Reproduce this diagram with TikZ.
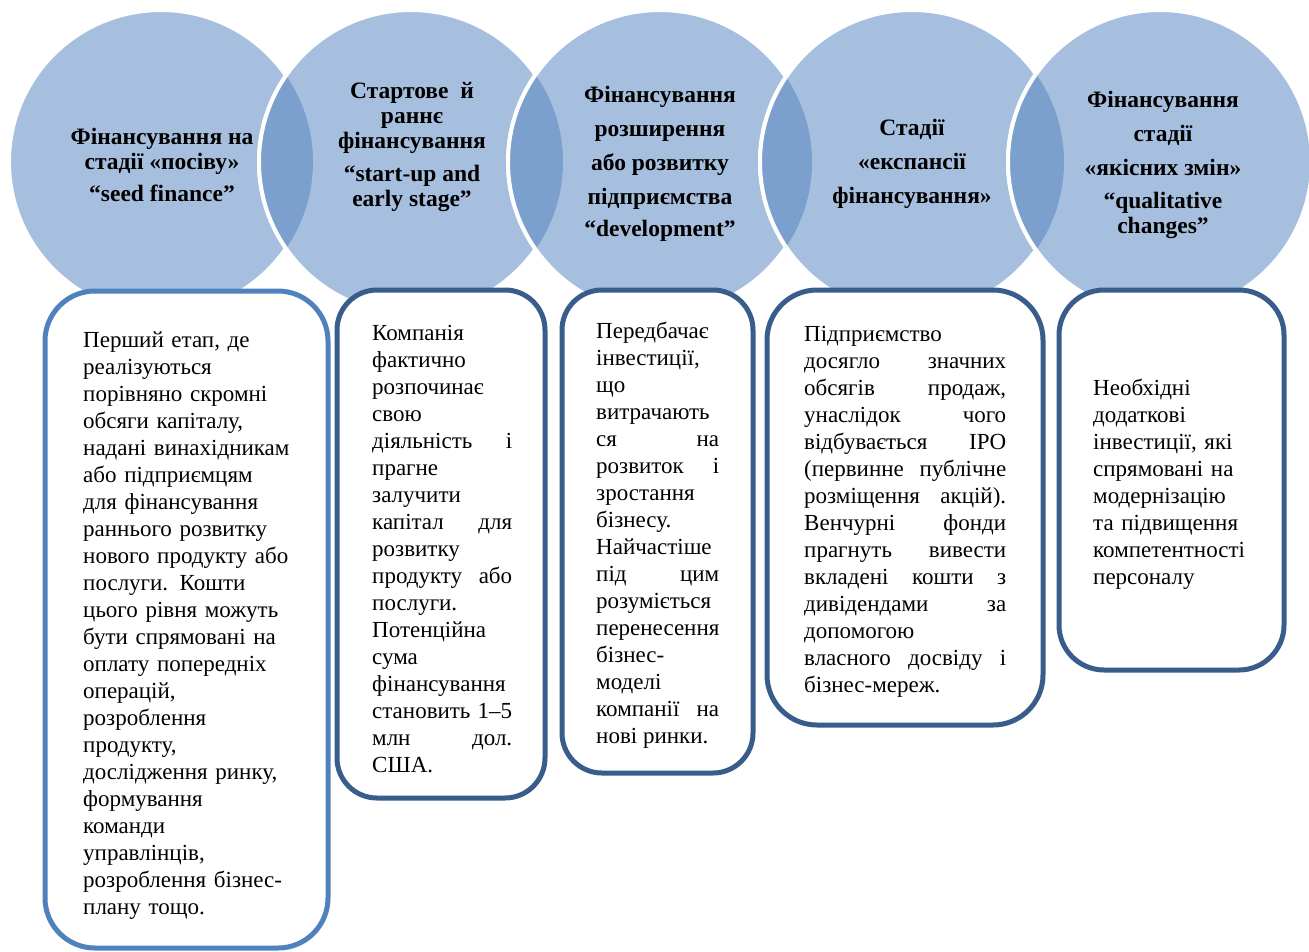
\documentclass[tikz,border=0pt]{standalone}
\usepackage{fontspec}
\setmainfont{Liberation Serif}
\definecolor{lightc}{RGB}{167,191,222}
\definecolor{darkc}{RGB}{123,160,205}
\definecolor{bordA}{RGB}{79,129,189}
\definecolor{bordB}{RGB}{56,93,138}
\hyphenpenalty=10000 \exhyphenpenalty=10000 \tolerance=10000 \hbadness=10000 \hfuzz=20pt
\tikzset{
  circfill/.style={fill=lightc, draw=white, line width=4pt},
  circtext/.style={font=\fontsize{23.5}{25}\selectfont\bfseries, align=center, inner sep=0pt},
  bodytext/.style={font=\fontsize{23}{27}\selectfont, inner sep=0pt, anchor=west},
  boxA/.style={draw=bordA, fill=white, line width=5pt, rounded corners=50pt},
  boxB/.style={draw=bordB, fill=white, line width=5pt, rounded corners=#1},
  boxB/.default=40pt
}
\begin{document}
\begin{tikzpicture}[x=1pt,y=-1pt]
\useasboundingbox (0,0) rectangle (1309,951);
\clip (0,0) rectangle (1309,951);
\def\R{152}
\coordinate (o1) at (161,162);
\coordinate (o2) at (411,162);
\coordinate (o3) at (660,162);
\coordinate (o4) at (912,162);
\coordinate (o5) at (1160,162);
% circles
\foreach \i in {1,...,5} { \path[circfill] (o\i) circle (\R); }
% overlaps
\foreach \i/\j in {1/2,2/3,3/4,4/5} {
  \begin{scope}
    \clip (o\i) circle (\R);
    \fill[darkc] (o\j) circle (\R);
    \draw[white, line width=4pt] (o\j) circle (\R);
  \end{scope}
}
% circle texts
\node[circtext] (t1) at (162,165) {Фінансування на\\стадії «посіву»\\[7pt]“seed finance”};
\node[circtext] (t2) at (412,147) {Стартове~~й\\раннє\\фінансування\\[8pt]“start-up and\\early stage”};
\node[circtext] (t3) at (660,164) {Фінансування\\[9pt]розширення\\[9pt]або розвитку\\[9pt]підприємства\\[7pt]“development”};
\node[circtext] (t4) at (912,164) {Стадії\\[9pt]«експансії\\[9pt]фінансування»};
\node[circtext] (t5) at (1163,165) {Фінансування\\[9pt]стадії\\[9pt]«якісних змін»\\[8pt]“qualitative\\changes”};
% boxes
\node[boxA, minimum width=283pt, minimum height=657pt] (b1) at (186.5,619.5) {};
\node[boxB, minimum width=208pt, minimum height=508pt] (b2) at (441,544) {};
\node[boxB, minimum width=191pt, minimum height=483pt] (b3) at (657.5,531.5) {};
\node[boxB=50pt, minimum width=276pt, minimum height=435pt] (b4) at (905,507.5) {};
\node[boxB=45pt, minimum width=225pt, minimum height=380pt] (b5) at (1171.5,480) {};
% box texts
\node[bodytext, text width=215pt, align=left] (x1) at (83,626) {Перший етап, де\\
реалізуються\\
порівняно скромні\\
обсяги капіталу,\\
надані винахідникам\\
або підприємцям\\
для фінансування\\
раннього розвитку\\
нового продукту або\\
послуги. Кошти\\
цього рівня можуть\\
бути спрямовані на\\
оплату попередніх\\
операцій,\\
розроблення\\
продукту,\\
дослідження ринку,\\
формування\\
команди\\
управлінців,\\
розроблення бізнес-\\
плану тощо.};
\node[bodytext, text width=140pt, align=justify] (x2) at (372,549) {Компанія\\
фактично\\
розпочинає\\
свою\\
діяльність~і\linebreak
прагне\\
залучити\\
капітал~для\linebreak
розвитку\\
продукту~або\linebreak
послуги.\\
Потенційна\\
сума\\
фінансування\\
становить~1–5\linebreak
млн~дол.\linebreak
США.};
\node[bodytext, text width=123pt, align=justify] (x3) at (596,535) {Передбачає\\
інвестиції,\\
що\\
витрачають\\
ся~на\linebreak
розвиток~і\linebreak
зростання\\
бізнесу.\\
Найчастіше\\
під~цим\linebreak
розуміється\\
перенесення\\
бізнес-\\
моделі\\
компанії~на\linebreak
нові~ринки.};
\node[bodytext, text width=202pt, align=justify] (x4) at (804,512) {Підприємство\\
досягло~значних\linebreak
обсягів~продаж,\linebreak
унаслідок~чого\linebreak
відбувається~IPO\linebreak
(первинне~публічне\linebreak
розміщення~акцій).\linebreak
Венчурні~фонди\linebreak
прагнуть~вивести\linebreak
вкладені~кошти~з\linebreak
дивідендами~за\linebreak
допомогою\\
власного~досвіду~і\linebreak
бізнес-мереж.};
\node[bodytext, text width=180pt, align=left] (x5) at (1093,484) {Необхідні\\
додаткові\\
інвестиції, які\\
спрямовані на\\
модернізацію\\
та підвищення\\
компетентності\\
персоналу};
\end{tikzpicture}
\end{document}
